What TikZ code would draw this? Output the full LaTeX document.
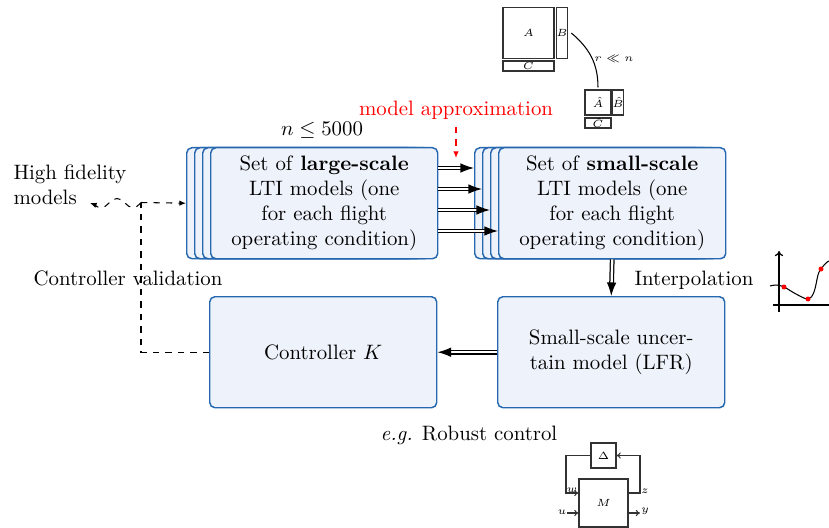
\documentclass[tikz,border=0pt]{standalone}
\usetikzlibrary{arrows.meta,calc}
\definecolor{boxfill}{RGB}{238,242,250}
\definecolor{boxdraw}{RGB}{38,104,176}
\definecolor{matline}{RGB}{50,50,50}
\begin{document}
\begin{tikzpicture}[x=0.48pt,y=-0.48pt,
  blk/.style={draw=boxdraw, fill=boxfill, line width=0.7pt, rounded corners=2.5pt, inner sep=0pt, minimum width={227*0.48pt}, minimum height={111*0.48pt}},
  blktxt/.style={align=center, text width=100pt},
  dbl/.style={double, double distance=1.1pt, line width=0.6pt, -{Latex[length=6.5pt,width=4.6pt]}},
  dsh/.style={dashed, line width=0.5pt},
  dtip/.style={-{Latex[length=3.2pt,width=2.6pt]}},
  mat/.style={draw=matline, line width=0.5pt, inner sep=0pt, font=\tiny},
  lfr/.style={draw=matline, line width=0.5pt},
  lfrtip/.style={-{To[length=2pt,width=3pt]}},
  lbl/.style={font=\tiny, inner sep=0pt},
]
\useasboundingbox (0,0) rectangle (829,528);

% large-scale stack
\node[blk, anchor=north west] (L0) at (186,147) {};
\node[blk, anchor=north west] (L1) at (194,147) {};
\node[blk, anchor=north west] (L2) at (202,147) {};
\node[blk, anchor=north west, blktxt] (L3) at (210,147) {Set of \textbf{large-scale}\\LTI models (one\\for each flight\\operating condition)};

% small-scale stack
\node[blk, anchor=north west] (S0) at (474,147) {};
\node[blk, anchor=north west] (S1) at (482,147) {};
\node[blk, anchor=north west] (S2) at (490,147) {};
\node[blk, anchor=north west, blktxt] (S3) at (498,147) {Set of \textbf{small-scale}\\LTI models (one\\for each flight\\operating condition)};

% arrows between stacks
\draw[dbl] (L3.east |- 0,168) -- (S0.west |- 0,168);
\draw[dbl] (L3.east |- 0,189) -- (S1.west |- 0,189);
\draw[dbl] (L3.east |- 0,210) -- (S2.west |- 0,210);
\draw[dbl] (L3.east |- 0,231) -- (S3.west |- 0,231);

% lower boxes
\node[blk, anchor=north west, blktxt] (lfr) at (497,296) {Small-scale uncer-\\tain model (LFR)};
\node[blk, anchor=north west, blktxt] (ctrl) at (209,296) {Controller $K$};

\draw[dbl] (S3.south) -- (lfr.north);
\node (interp) at (694,280) {Interpolation};
\draw[dbl] (lfr.west) -- (ctrl.east);

% labels
\node (nle) at (322,130) {$n \leq 5000$};
\node[text=red] (ma) at (456,110) {model approximation};
\coordinate (masrc) at (456,127);
\coordinate (matip) at (456,158);
\draw[dsh, red, dtip] (masrc) -- (matip);

% validation loop
\node[align=left] (hf) at (70,185) {High fidelity\\models};
\coordinate (hfin) at (90,203);
\coordinate (jn) at (141,202.5);
\draw[dsh] (ctrl.west) -| (jn);
\draw[dsh, dtip] (jn) -- (L0.west);
\draw[dsh, dtip] (jn) to[out=225,in=0] (133,207.5) to[out=180,in=-45] (125,203)
  to[out=135,in=0] (117,198.5) to[out=180,in=45] (109,203)
  to[out=225,in=0] (101,207.5) to[out=180,in=-20] (hfin);
\node (cv) at (128,278) {Controller validation};

% matrices
\node[mat, minimum width={51*0.48pt}, minimum height={51*0.48pt}] (A) at (528.5,33) {$A$};
\node[mat, minimum width={10*0.48pt}, minimum height={51*0.48pt}] (B) at (562,33) {$B$};
\node[mat, minimum width={51*0.48pt}, minimum height={10*0.48pt}] (C) at (528.5,66) {$C$};
\node[mat, minimum width={26*0.48pt}, minimum height={25*0.48pt}] (Ah) at (598,102.5) {$\hat{A}$};
\node[mat, minimum width={10*0.48pt}, minimum height={25*0.48pt}] (Bh) at (618,102.5) {$\hat{B}$};
\node[mat, minimum width={26*0.48pt}, minimum height={10*0.48pt}] (Ch) at (598,123) {$\hat{C}$};
\draw[line width=0.5pt] ([xshift=1.5pt]B.east) to[out=-40,in=90] ([yshift=1pt]Ah.north);
\node[lbl] (rn) at (614,59) {$r \ll n$};

% interpolation plot
\coordinate (vb) at (779,312);
\coordinate (vt) at (779,251);
\coordinate (hl) at (773,305);
\coordinate (hr) at (829,305);
\draw[line width=0.6pt, -{To[length=2.5pt,width=4pt]}] (vb) -- (vt);
\draw[line width=0.6pt] (hl) -- (hr);
\draw[line width=0.5pt] plot[smooth, tension=0.6] coordinates {(770,286) (776,285) (784,287) (796,294) (808,299) (814,292) (818,275) (821,269) (826,263) (829,261)};
\foreach \p in {(784,287),(808,299),(821,269)} \fill[red] \p circle (1.2pt);

% robust control
\node (rc) at (469,435) {\textit{e.g.} Robust control};
\node[lfr, minimum width={25*0.48pt}, minimum height={25*0.48pt}, inner sep=0pt, font=\tiny] (D) at (603.5,455.5) {$\Delta$};
\node[lfr, minimum width={49*0.48pt}, minimum height={48*0.48pt}, inner sep=0pt, font=\tiny] (M) at (603.5,503) {$M$};
\coordinate (wl) at (566,493);
\coordinate (ui) at (567,513);
\coordinate (zr) at (640,493);
\coordinate (yo) at (640,513);
\draw[lfr, lfrtip] (D.west) -| (wl) -- (M.west |- wl);
\draw[lfr, lfrtip] (ui) -- (M.west |- ui);
\draw[lfr, lfrtip] (M.east |- zr) -- (zr) |- (D.east);
\draw[lfr, lfrtip] (M.east |- yo) -- (yo);
\node[lbl] (wlab) at (572,490) {$w$};
\node[lbl] (ulab) at (562,512) {$u$};
\node[lbl] (zlab) at (645,491) {$z$};
\node[lbl] (ylab) at (645,511) {$y$};
\end{tikzpicture}
\end{document}
